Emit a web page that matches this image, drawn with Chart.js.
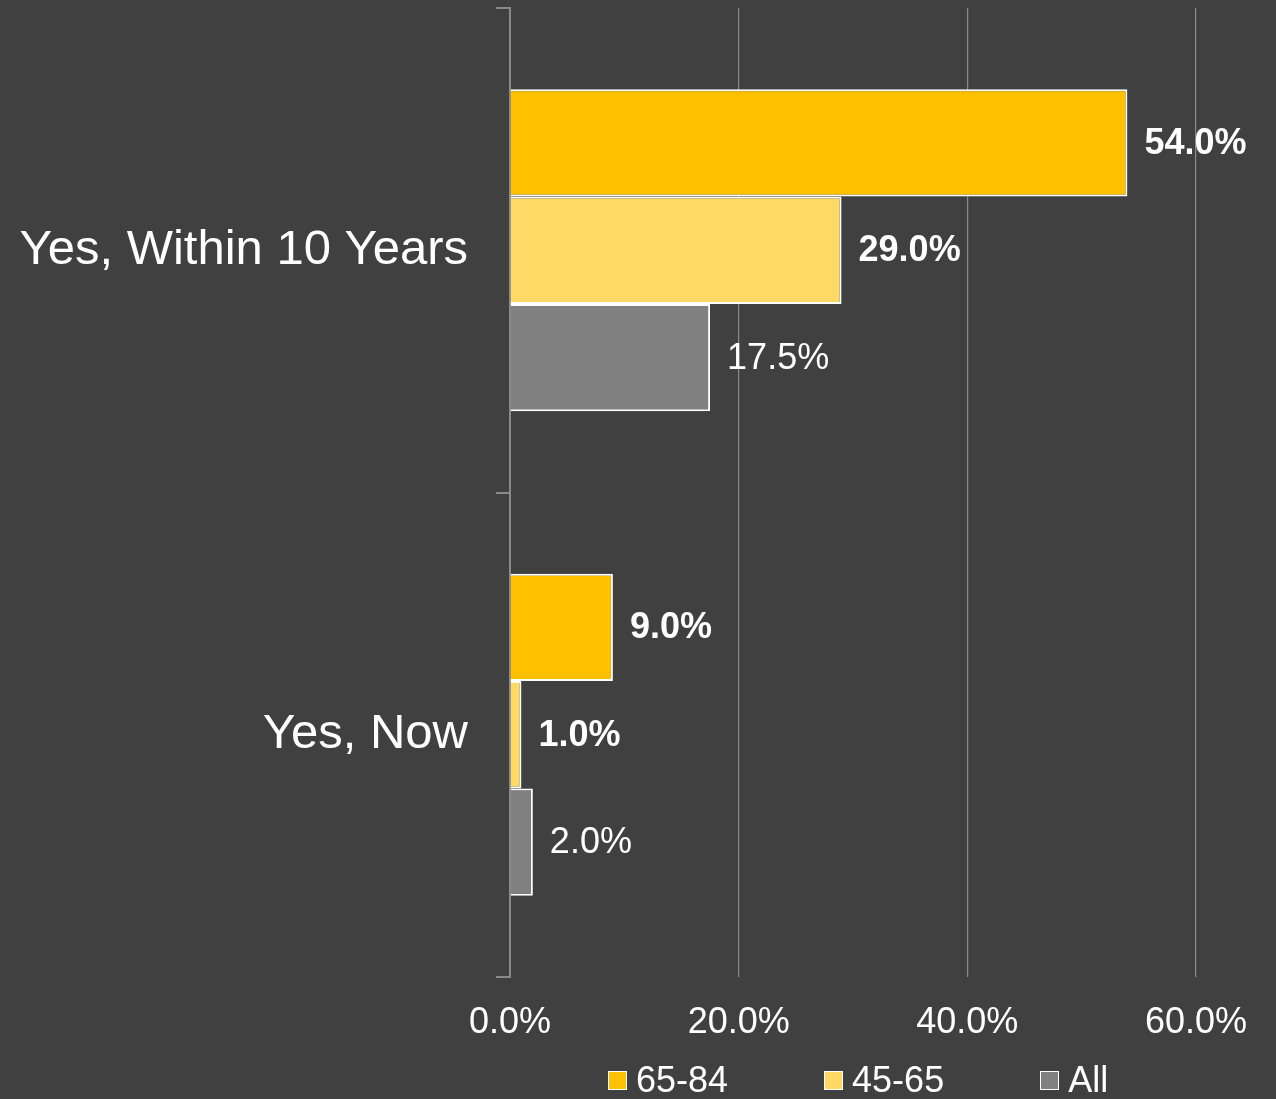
<!DOCTYPE html>
<html>
<head>
<meta charset="utf-8">
<script src="https://cdn.jsdelivr.net/npm/chart.js@4/dist/chart.umd.min.js"></script>
<style>
  html, body { margin: 0; padding: 0; background: #404040; }
  #wrap { position: relative; width: 1276px; height: 1099px; }
  #legend {
    position: absolute; left: 608px; top: 1059px;
    display: flex; gap: 96px;
    font-family: "Liberation Sans", Arial, sans-serif; font-size: 36px; color: #ffffff;
  }
  .item { display: flex; align-items: center; gap: 9px; line-height: 42px; }
  .swatch { width: 17px; height: 17px; border: 1.5px solid #ffffff; }
</style>
</head>
<body>
<div id="wrap">
  <canvas id="chart" width="1276" height="1099"></canvas>
  <div id="legend"></div>
</div>
<script>
const categories = ['Yes, Within 10 Years', 'Yes, Now'];
const seriesNames = ['65-84', '45-65', 'All'];
const values6584 = [54.0, 9.0];
const values4565 = [29.0, 1.0];
const valuesAll = [17.5, 2.0];
const seriesColors = ['#FFC000', '#FFD966', '#808080'];
const boldLabels = [true, true, false];

const FONT = '"Liberation Sans", Arial, sans-serif';

// value labels at the end of each bar
const barValueLabels = {
    id: 'barValueLabels',
    afterDatasetsDraw(chart) {
        const ctx = chart.ctx;
        ctx.save();
        ctx.fillStyle = '#ffffff';
        ctx.textBaseline = 'middle';
        ctx.textAlign = 'left';
        chart.data.datasets.forEach((ds, i) => {
            const meta = chart.getDatasetMeta(i);
            ctx.font = `${boldLabels[i] ? 'bold ' : ''}36px ${FONT}`;
            meta.data.forEach((bar, j) => {
                ctx.fillText(ds.data[j].toFixed(1) + '%', bar.x + 17, bar.y + 1);
            });
        });
        ctx.restore();
    }
};

const datasets = [values6584, values4565, valuesAll].map((values, i) => ({
    label: seriesNames[i],
    data: values,
    backgroundColor: seriesColors[i],
    borderColor: '#ffffff',
    borderWidth: 2,
    borderSkipped: 'start',
    barPercentage: 1,
    categoryPercentage: 0.665
}));

new Chart(document.getElementById('chart'), {
    type: 'bar',
    data: { labels: categories, datasets },
    options: {
        indexAxis: 'y',
        responsive: false,
        animation: false,
        layout: { padding: { top: 8, right: 80, left: 0, bottom: 0 } },
        plugins: {
            legend: { display: false },
            tooltip: { enabled: false }
        },
        scales: {
            x: {
                min: 0,
                max: 60,
                ticks: {
                    stepSize: 20,
                    color: '#ffffff',
                    font: { family: FONT, size: 36 },
                    padding: 24,
                    callback: (v) => v.toFixed(1) + '%'
                },
                grid: { color: '#8a8a8a', lineWidth: 1.2, drawTicks: false },
                border: { display: false },
                afterFit: (scale) => { scale.height = 122; }
            },
            y: {
                ticks: {
                    color: '#ffffff',
                    font: { family: FONT, size: 49 },
                    padding: 28
                },
                grid: { color: '#8a8a8a', drawOnChartArea: false, drawTicks: true, tickLength: 14, lineWidth: 2, offset: true },
                border: { display: true, color: '#8a8a8a', width: 2 },
                afterFit: (scale) => {
                    scale.width = 510;
                    scale.paddingTop = 0;
                    scale.paddingBottom = 0;
                }
            }
        }
    },
    plugins: [barValueLabels]
});

// legend below the plot
const legend = document.getElementById('legend');
legend.innerHTML = seriesNames.map((name, i) =>
    `<div class="item"><span class="swatch" style="background:${seriesColors[i]}"></span><span>${name}</span></div>`
).join('');
</script>
</body>
</html>
